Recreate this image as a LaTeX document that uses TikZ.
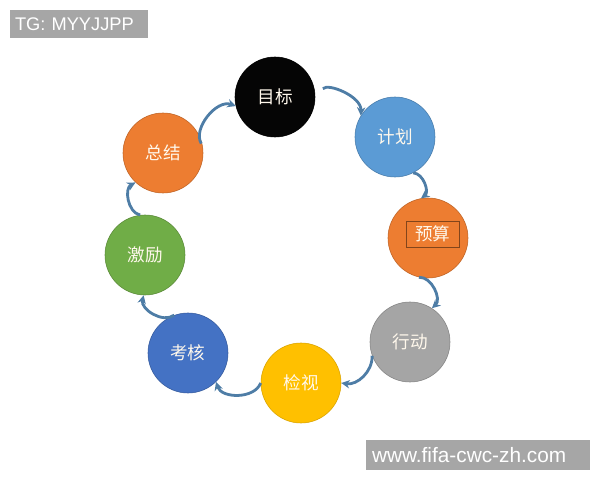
\documentclass[tikz,border=0pt]{standalone}
\usepackage{fontspec}
\usepackage{tikz}
\usepackage{xcolor}
\usetikzlibrary{arrows.meta, positioning, calc}

\newfontfamily\cjk{Noto Sans CJK SC}
\newfontfamily\lat{Liberation Sans}

\definecolor{mbblack}{HTML}{050505}
\definecolor{jhblue}{HTML}{5B9BD5}
\definecolor{ysorange}{HTML}{ED7D31}
\definecolor{xdgray}{HTML}{A5A5A5}
\definecolor{jsgold}{HTML}{FFC000}
\definecolor{khblue}{HTML}{4472C4}
\definecolor{jlgreen}{HTML}{70AD47}
\definecolor{cycblue}{HTML}{4E7DA6}
\definecolor{tagbg}{HTML}{A6A6A6}
\definecolor{ivory}{HTML}{FFF8EC}

\begin{document}
\begin{tikzpicture}[
    stage/.style={circle, minimum size=2cm, inner sep=0pt, thin,
        text=ivory, font=\cjk\fontsize{12.5}{15}\selectfont},
    cyc/.style={-{Stealth[length=6pt,width=6pt]}, cycblue, line width=2pt, bend left=70},
    tag/.style={fill=tagbg, text=white, inner sep=0pt}
]
\useasboundingbox (0,0) rectangle (15,12);

% Cycle stages
\node[stage, fill=mbblack, draw=black] (mb) at (6.875,9.575) {目标};
\node[stage, fill=jhblue, draw=jhblue!80!black] (jh) at (9.875,8.575) {计划};
\node[stage, fill=ysorange, draw=ysorange!80!black] (ys) at (10.7,6.05) {};
\node[draw=ysorange!55!black, thin, minimum width=1.33cm, minimum height=0.52cm,
    text=ivory, font=\cjk\fontsize{12.5}{15}\selectfont] (ysbox) at (10.82,6.15) {预算};
\node[stage, fill=xdgray, draw=xdgray!80!black] (xd) at (10.25,3.45) {行动};
\node[stage, fill=jsgold, draw=jsgold!85!black] (js) at (7.525,2.425) {检视};
\node[stage, fill=khblue, draw=khblue!80!black] (kh) at (4.7,3.175) {考核};
\node[stage, fill=jlgreen, draw=jlgreen!80!black] (jl) at (3.625,5.625) {激励};
\node[stage, fill=ysorange, draw=ysorange!80!black] (zj) at (4.075,8.175) {总结};

% Curved arrows between stages
\draw[cyc, shorten <=2pt] (zj.10) to (mb.193);
\draw[cyc, shorten <=8pt] (mb.0) to (jh.148);
\draw[cyc] (jh.-63) to (ys.100);
\draw[cyc] (ys.-103) to (xd.57);
\draw[cyc, bend left=50] (xd.200) to (js.0);
\draw[cyc] (js.180) to (kh.-46);
\draw[cyc] (kh.110) to (jl.-92);
\draw[cyc] (jl.97) to (zj.-133);

% Tags
\node[tag, minimum width=3.45cm, minimum height=0.7cm, text width=3.2cm,
    font=\lat\fontsize{13}{15}\selectfont] (tg) at (1.975,11.4) {TG: MYYJJPP};
\node[tag, minimum width=5.6cm, minimum height=0.75cm, text width=5.3cm,
    font=\lat\fontsize{14.8}{17}\selectfont] (www) at (11.95,0.625) {www.fifa-cwc-zh.com};
\end{tikzpicture}
\end{document}
